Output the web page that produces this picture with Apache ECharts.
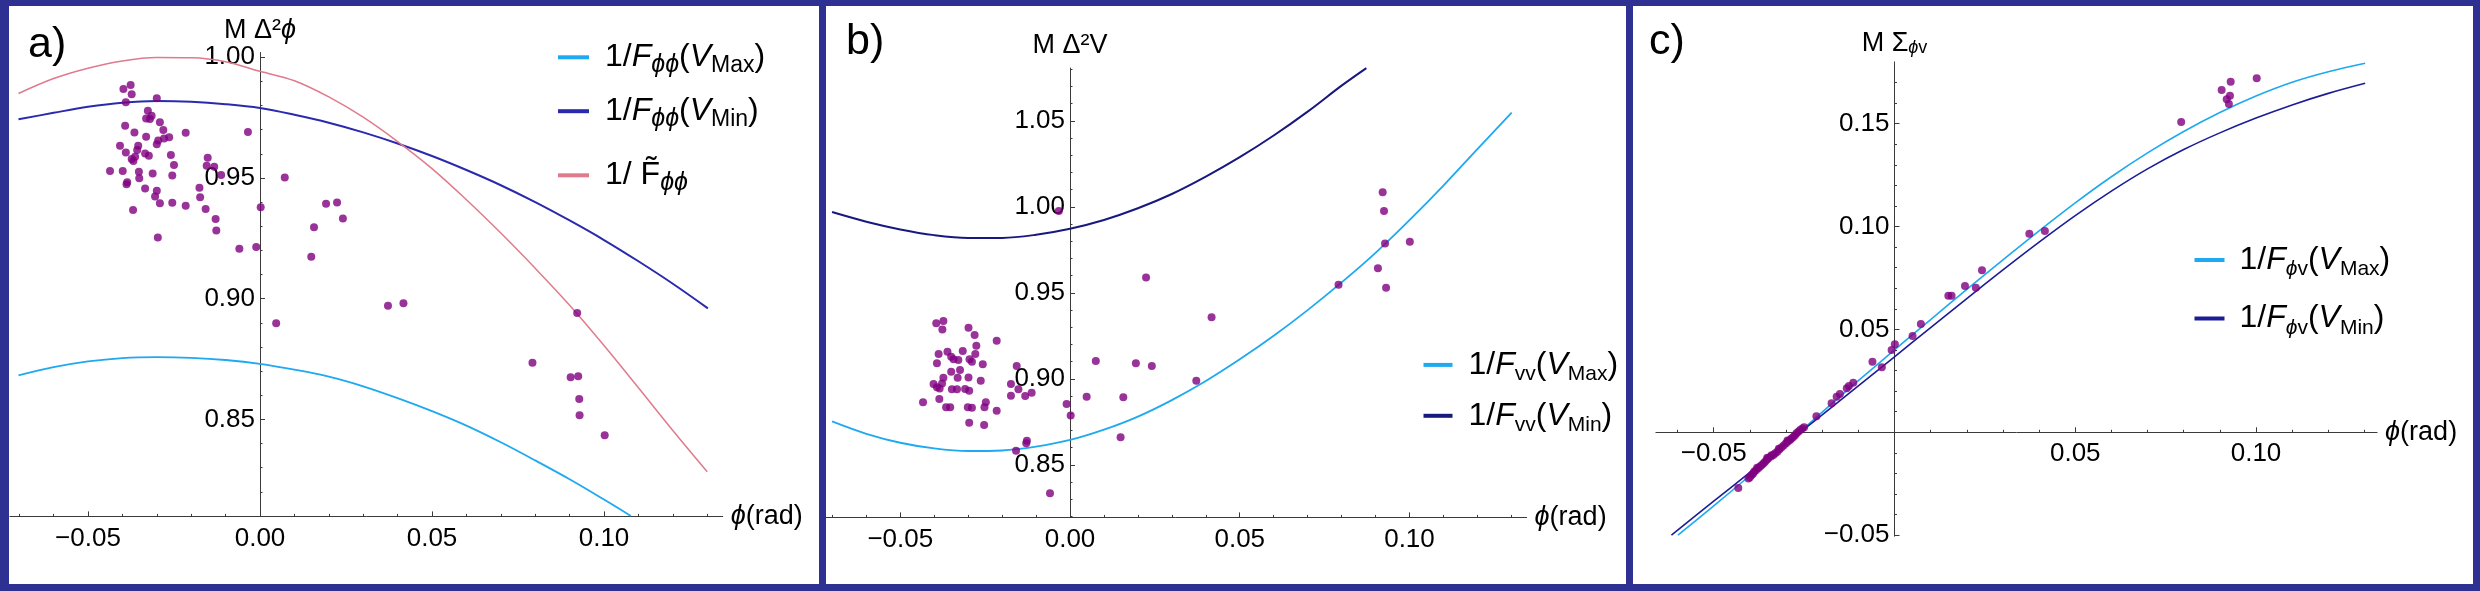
<!DOCTYPE html>
<html><head><meta charset="utf-8">
<script src="https://cdn.jsdelivr.net/npm/echarts@6/dist/echarts.min.js"></script>
<style>html,body{margin:0;padding:0;background:#fff}#c{width:2480px;height:591px}</style>
</head><body><div id="c"></div>
<script>
// ---------------- data ----------------
// panel a : M Δ²ϕ
const aVmax = [[-0.0702,0.8682],[-0.06,0.8716],[-0.05,0.8740],[-0.04,0.8754],[-0.03,0.8758],[-0.02,0.8755],[-0.01,0.8746],[0.00,0.8730],[0.01,0.8706],[0.02,0.8677],[0.03,0.8637],[0.04,0.8588],[0.05,0.8534],[0.06,0.8474],[0.07,0.8405],[0.08,0.8330],[0.09,0.8252],[0.10,0.8168],[0.1078,0.8100]];
const aVmin = [[-0.0702,0.9743],[-0.06,0.9770],[-0.05,0.9795],[-0.04,0.9812],[-0.03,0.9819],[-0.02,0.9816],[-0.01,0.9806],[0.00,0.9790],[0.01,0.9762],[0.02,0.9729],[0.03,0.9689],[0.04,0.9643],[0.05,0.9591],[0.06,0.9533],[0.07,0.9470],[0.08,0.9400],[0.09,0.9324],[0.10,0.9243],[0.11,0.9155],[0.12,0.9062],[0.1302,0.8960]];
const aTilde = [[-0.0702,0.9850],[-0.06,0.9912],[-0.05,0.9955],[-0.04,0.9985],[-0.03,0.9999],[-0.02,0.9998],[-0.01,0.9982],[0.00,0.9942],[0.01,0.9903],[0.02,0.9836],[0.03,0.9752],[0.04,0.9651],[0.05,0.9539],[0.06,0.9410],[0.07,0.9272],[0.08,0.9126],[0.09,0.8973],[0.10,0.8806],[0.11,0.8631],[0.12,0.8454],[0.1300,0.8283]];
const aPts = [
[-0.0397,0.9869],[-0.0376,0.9885],[-0.0373,0.9847],[-0.0390,0.9814],[-0.0300,0.9830],
[-0.0326,0.9779],[-0.0315,0.9758],[-0.0331,0.9747],[-0.0320,0.9744],[-0.0291,0.9731],
[-0.0392,0.9717],[-0.0281,0.9699],[-0.0365,0.9689],[-0.0216,0.9688],[-0.0035,0.9691],
[-0.0331,0.9671],[-0.0264,0.9669],[-0.0279,0.9664],[-0.0296,0.9655],[-0.0300,0.9640],
[-0.0407,0.9634],[-0.0354,0.9634],[-0.0357,0.9616],[-0.0390,0.9606],[-0.0334,0.9602],
[-0.0323,0.9592],[-0.0259,0.9595],[-0.0363,0.9588],[-0.0373,0.9579],[-0.0368,0.9570],
[-0.0152,0.9584],[-0.0250,0.9554],[-0.0155,0.9551],[-0.0133,0.9547],[-0.0436,0.9529],
[-0.0399,0.9529],[-0.0352,0.9526],[-0.0312,0.9519],[-0.0255,0.9510],[-0.0113,0.9512],
[-0.0351,0.9499],[-0.0386,0.9482],[-0.0388,0.9474],[-0.0334,0.9457],[-0.0176,0.9460],
[-0.0300,0.9447],[-0.0174,0.9420],[-0.0305,0.9423],[-0.0291,0.9395],[-0.0255,0.9398],
[-0.0216,0.9385],[0.0002,0.9379],[-0.0369,0.9367],[-0.0158,0.9372],[-0.0129,0.9330],
[-0.0127,0.9283],[-0.0297,0.9254],[-0.0060,0.9207],[-0.0011,0.9214],[0.0072,0.9502],
[0.0192,0.9393],[0.0224,0.9399],[0.0241,0.9332],[0.0157,0.9296],[0.0149,0.9174],
[0.0047,0.8898],[0.0372,0.8971],[0.0417,0.8981],[0.0922,0.8941],[0.0792,0.8735],
[0.0903,0.8674],[0.0925,0.8679],[0.0928,0.8584],[0.0929,0.8517],[0.1002,0.8434]];

// panel b : M Δ²V
const bVmax = [[-0.0701,0.8753],[-0.06,0.8681],[-0.05,0.8629],[-0.04,0.8596],[-0.03,0.8581],[-0.02,0.8584],[-0.01,0.8606],[0.00,0.8645],[0.01,0.8705],[0.02,0.8781],[0.03,0.8877],[0.04,0.8988],[0.05,0.9114],[0.06,0.9251],[0.07,0.9400],[0.08,0.9561],[0.09,0.9733],[0.10,0.9923],[0.11,1.0124],[0.12,1.0336],[0.1301,1.0548]];
const bVmin = [[-0.0701,0.9970],[-0.06,0.9914],[-0.05,0.9869],[-0.04,0.9836],[-0.03,0.9820],[-0.02,0.9820],[-0.01,0.9838],[0.00,0.9873],[0.01,0.9924],[0.02,0.9992],[0.03,1.0075],[0.04,1.0176],[0.05,1.0289],[0.06,1.0415],[0.07,1.0554],[0.08,1.0705],[0.0873,1.0807]];
const bPts = [
[-0.0394,0.9323],[-0.0373,0.9337],[-0.0376,0.9288],[-0.0299,0.9298],[-0.0281,0.9255],
[-0.0216,0.9222],[-0.0276,0.9193],[-0.0387,0.9145],[-0.0361,0.9158],[-0.0350,0.9129],
[-0.0316,0.9162],[-0.0279,0.9145],[-0.0329,0.9110],[-0.0343,0.9114],[-0.0392,0.9091],
[-0.0296,0.9114],[-0.0289,0.9100],[-0.0257,0.9085],[-0.0324,0.9052],[-0.0350,0.9042],
[-0.0373,0.9007],[-0.0331,0.9007],[-0.0299,0.9009],[-0.0263,0.8990],[-0.0157,0.9075],
[-0.0402,0.8970],[-0.0377,0.8974],[-0.0392,0.8951],[-0.0384,0.8945],[-0.0348,0.8940],
[-0.0333,0.8940],[-0.0309,0.8941],[-0.0297,0.8931],[-0.0174,0.8970],[-0.0152,0.8940],
[-0.0113,0.8920],[-0.0174,0.8902],[-0.0132,0.8901],[-0.0385,0.8883],[-0.0433,0.8864],
[-0.0248,0.8864],[-0.0365,0.8835],[-0.0353,0.8835],[-0.0301,0.8835],[-0.0289,0.8833],
[-0.0252,0.8835],[-0.0216,0.8815],[-0.0297,0.8745],[-0.0253,0.8732],[-0.0010,0.8854],
[0.0002,0.8788],[0.0049,0.8897],[-0.0127,0.8641],[-0.0129,0.8626],[-0.0159,0.8583],
[-0.0059,0.8335],[-0.0033,0.9976],[0.0224,0.9590],[0.0417,0.9358],[0.0372,0.8990],
[0.0194,0.9091],[0.0241,0.9075],[0.0076,0.9104],[0.0157,0.8893],[0.0149,0.8661],
[0.0921,1.0085],[0.0925,0.9976],[0.0928,0.9788],[0.1001,0.9798],[0.0907,0.9643],
[0.0791,0.9548],[0.0931,0.9530]];

// panel c : M Σϕv
const cVmax = [[-0.0599,-0.0500],[-0.05,-0.0358],[-0.04,-0.0210],[-0.03,-0.0057],[-0.02,0.0098],[-0.01,0.0251],[0.00,0.0400],[0.01,0.0548],[0.02,0.0694],[0.03,0.0838],[0.04,0.0979],[0.05,0.1115],[0.06,0.1242],[0.07,0.1358],[0.08,0.1462],[0.09,0.1554],[0.10,0.1634],[0.11,0.1701],[0.12,0.1752],[0.1302,0.1793]];
const cVmin = [[-0.0617,-0.0500],[-0.05,-0.0335],[-0.04,-0.0195],[-0.03,-0.0055],[-0.02,0.0085],[-0.01,0.0226],[0.00,0.0367],[0.01,0.0509],[0.02,0.0650],[0.03,0.0789],[0.04,0.0924],[0.05,0.1053],[0.06,0.1172],[0.07,0.1280],[0.08,0.1374],[0.09,0.1455],[0.10,0.1527],[0.11,0.1591],[0.12,0.1647],[0.1302,0.1696]];
const cPts = [
[0.1002,0.1720],[0.0930,0.1704],[0.0905,0.1663],[0.0928,0.1636],[0.0919,0.1618],[0.0925,0.1595],[0.0793,0.1508],
[0.0373,0.0965],[0.0416,0.0978],[0.0242,0.0787],[0.0195,0.0711],[0.0225,0.0703],[0.0149,0.0664],[0.0158,0.0664],
[0.0073,0.0526],[0.0050,0.0468],[0.0001,0.0428],[-0.0008,0.0400],
[-0.0061,0.0343],[-0.0035,0.0316],[-0.0114,0.0241],[-0.0126,0.0225],[-0.0132,0.0214],[-0.0151,0.0186],[-0.0160,0.0173],[-0.0174,0.0141],[-0.0216,0.0078],
[-0.0250,0.0024],[-0.0255,0.0018],[-0.0261,0.0011],[-0.0266,0.0003],[-0.0271,-0.0005],[-0.0275,-0.0014],[-0.0280,-0.0023],[-0.0285,-0.0030],[-0.0289,-0.0037],[-0.0295,-0.0045],[-0.0300,-0.0053],[-0.0306,-0.0063],[-0.0312,-0.0073],[-0.0318,-0.0083],[-0.0324,-0.0094],[-0.0330,-0.0102],[-0.0335,-0.0110],[-0.0342,-0.0118],[-0.0349,-0.0126],[-0.0353,-0.0134],[-0.0358,-0.0143],[-0.0362,-0.0151],[-0.0367,-0.0159],[-0.0372,-0.0166],[-0.0377,-0.0175],[-0.0383,-0.0184],[-0.0388,-0.0191],[-0.0391,-0.0200],[-0.0395,-0.0207],[-0.0400,-0.0218],[-0.0404,-0.0225],[-0.0432,-0.0271],
[-0.0296,-0.0040],[-0.0352,-0.0124],[-0.0380,-0.0172],[-0.0320,-0.0080],[-0.0340,-0.0112]];

// tick values
const abXMajor = [-0.05, 0, 0.05, 0.10];
const abXMinor = [-0.07,-0.06,-0.04,-0.03,-0.02,-0.01,0.01,0.02,0.03,0.04,0.06,0.07,0.08,0.09,0.11,0.12,0.13];
const aYMajor = [0.85, 0.90, 0.95, 1.00];
const aYMinor = [0.81,0.82,0.83,0.84,0.86,0.87,0.88,0.89,0.91,0.92,0.93,0.94,0.96,0.97,0.98,0.99];
const bYMajor = [0.85, 0.90, 0.95, 1.00, 1.05];
const bYMinor = [0.82,0.83,0.84,0.86,0.87,0.88,0.89,0.91,0.92,0.93,0.94,0.96,0.97,0.98,0.99,1.01,1.02,1.03,1.04,1.06,1.07,1.08];
const cXMajor = [-0.05, 0.05, 0.10];
const cXMinor = [-0.06,-0.04,-0.03,-0.02,-0.01,0.01,0.02,0.03,0.04,0.06,0.07,0.08,0.09,0.11,0.12,0.13];
const cYMajor = [-0.05, 0.05, 0.10, 0.15];
const cYMinor = [-0.04,-0.03,-0.02,-0.01,0.01,0.02,0.03,0.04,0.06,0.07,0.08,0.09,0.11,0.12,0.13,0.14,0.16,0.17];

// ---------------- styling ----------------
const FONT = '"Liberation Sans", Arial, "DejaVu Sans", sans-serif';
const LIGHT = '#1EA9F0', DARKA = '#2A2AAE', DARKB = '#18187F', DARKC = '#1C1C96', PINK = '#E07A8C';
const PURPLE = '#800080', BORDER = '#2E3192', AX = '#3a3a3a';

const fmt = v => (v < 0 ? '\u2212' : '') + Math.abs(v).toFixed(2);

const nameRich = {
  n: {fontSize: 27, fontFamily: FONT, color: '#000', lineHeight: 27},
  i: {fontSize: 27, fontFamily: FONT, fontStyle: 'italic', color: '#000', lineHeight: 27},
  si: {fontSize: 18, fontFamily: FONT, fontStyle: 'italic', color: '#000', lineHeight: 14, verticalAlign: 'bottom'},
  s: {fontSize: 18, fontFamily: FONT, color: '#000', lineHeight: 14, verticalAlign: 'bottom'}
};
function legRichOf(subPhi, subTxt) {
  return {
    n: {fontSize: 32, fontFamily: FONT, color: '#000', lineHeight: 40},
    i: {fontSize: 32, fontFamily: FONT, fontStyle: 'italic', color: '#000', lineHeight: 40},
    si: {fontSize: subPhi, fontFamily: FONT, fontStyle: 'italic', color: '#000', lineHeight: 26, verticalAlign: 'bottom'},
    s: {fontSize: subTxt, fontFamily: FONT, color: '#000', lineHeight: 26, verticalAlign: 'bottom'}
  };
}
const legText = {
  aVmax: '{n|1/}{i|F}{si|ϕϕ}{n|(}{i|V}{s|Max}{n|)}',
  aVmin: '{n|1/}{i|F}{si|ϕϕ}{n|(}{i|V}{s|Min}{n|)}',
  aTilde: '{n|1/ F\u0303}{si|ϕϕ}',
  bVmax: '{n|1/}{i|F}{s|vv}{n|(}{i|V}{s|Max}{n|)}',
  bVmin: '{n|1/}{i|F}{s|vv}{n|(}{i|V}{s|Min}{n|)}',
  cVmax: '{n|1/}{i|F}{si|ϕ}{s|v}{n|(}{i|V}{s|Max}{n|)}',
  cVmin: '{n|1/}{i|F}{si|ϕ}{s|v}{n|(}{i|V}{s|Min}{n|)}'
};

// axes are shifted onto the zero lines with a (negative) offset
function xAxes(gi, min, max, major, minor, labels, off) {
  return [{
    type: 'value', gridIndex: gi, min: min, max: max, position: 'bottom', offset: off,
    axisLine: {show: true, onZero: false, lineStyle: {color: AX, width: 1}},
    axisTick: {show: true, inside: true, length: 5, customValues: major, lineStyle: {color: AX, width: 1}},
    axisLabel: {show: true, customValues: labels, margin: 9, fontSize: 26, fontFamily: FONT, color: '#000', formatter: fmt},
    splitLine: {show: false},
    name: '{i|ϕ}{n|(rad)}', nameLocation: 'end', nameGap: 8,
    nameTextStyle: {rich: nameRich, fontSize: 27, fontFamily: FONT, color: '#000', lineHeight: 27}
  }, {
    type: 'value', gridIndex: gi, min: min, max: max, position: 'bottom', offset: off,
    axisLine: {show: false, onZero: false},
    axisTick: {show: true, inside: true, length: 2.5, customValues: minor, lineStyle: {color: AX, width: 1}},
    axisLabel: {show: false}, splitLine: {show: false}
  }];
}
function yAxes(gi, min, max, major, minor, labels, name, gap, off) {
  return [{
    type: 'value', gridIndex: gi, min: min, max: max, position: 'left', offset: off,
    axisLine: {show: true, onZero: false, lineStyle: {color: AX, width: 1}},
    axisTick: {show: true, inside: true, length: 5, customValues: major, lineStyle: {color: AX, width: 1}},
    axisLabel: {show: true, customValues: labels, margin: 5, fontSize: 26, fontFamily: FONT, color: '#000', formatter: fmt},
    splitLine: {show: false},
    name: name, nameLocation: 'end', nameGap: gap,
    nameTextStyle: {rich: nameRich, fontSize: 27, fontFamily: FONT, color: '#000', lineHeight: 27}
  }, {
    type: 'value', gridIndex: gi, min: min, max: max, position: 'left', offset: off,
    axisLine: {show: false, onZero: false},
    axisTick: {show: true, inside: true, length: 2.5, customValues: minor, lineStyle: {color: AX, width: 1}},
    axisLabel: {show: false}, splitLine: {show: false}
  }];
}
function lineS(name, gi, data, color, width) {
  return {type: 'line', name: name, xAxisIndex: gi * 2, yAxisIndex: gi * 2, data: data,
    symbol: 'none', showSymbol: false, smooth: 0.35, clip: true, silent: true, z: 2,
    lineStyle: {color: color, width: width}, itemStyle: {color: color}};
}
function dotS(gi, data) {
  return {type: 'scatter', xAxisIndex: gi * 2, yAxisIndex: gi * 2, data: data, symbolSize: 8,
    clip: true, silent: true, z: 3, itemStyle: {color: PURPLE}};
}
function leg(name, left, rowY, iw, pad, rich) {
  return {data: [name], left: left, top: rowY - 20, orient: 'vertical', padding: 0,
    itemWidth: iw, itemHeight: 4, icon: 'rect', selectedMode: false,
    formatter: n => legText[n],
    textStyle: {rich: rich, fontSize: 32, fontFamily: FONT, color: '#000', lineHeight: 40, padding: [0, 0, 0, pad]}};
}
function txt(t, x, y) {
  return {type: 'text', x: x, y: y, z: 50,
    style: {text: t, fontSize: 43, fontFamily: FONT, fill: '#000', verticalAlign: 'middle', align: 'left'}};
}
function rect(x, y, w, h) {
  return {type: 'rect', z: 100, shape: {x: x, y: y, width: w, height: h}, style: {fill: BORDER}};
}

const richA = legRichOf(25, 23), richB = legRichOf(21, 21);

const option = {
  animation: false,
  backgroundColor: '#fff',
  grid: [
    {left: 9.9, top: 52.5, width: 712.8, height: 463.9, containLabel: false, outerBoundsMode: 'none'},
    {left: 823.9, top: 68.1, width: 702.7, height: 449.3, containLabel: false, outerBoundsMode: 'none'},
    {left: 1655.9, top: 61.9, width: 721.2, height: 474.3, containLabel: false, outerBoundsMode: 'none'}
  ],
  xAxis: [].concat(
    xAxes(0, -0.0727, 0.1345, abXMajor, abXMinor, abXMajor, 0),
    xAxes(1, -0.0725, 0.1345, abXMajor, abXMinor, abXMajor, 0),
    xAxes(2, -0.066, 0.1335, cXMajor, cXMinor, cXMajor, -103.9)
  ),
  yAxis: [].concat(
    yAxes(0, 0.8098, 1.002, aYMajor, aYMinor, aYMajor, '{n|M Δ²}{i|ϕ}', 2, -250.1),
    yAxes(1, 0.8195, 1.0807, bYMajor, bYMinor, bYMajor, '{n|M Δ²V}', 9, -246.1),
    yAxes(2, -0.0505, 0.18, cYMajor, cYMinor, cYMajor, '{n|M Σ}{si|ϕ}{s|v}', 5, -238.6)
  ),
  legend: [
    leg('aVmax', 558, 57.3, 31, 11, richA), leg('aVmin', 558, 111.2, 31, 11, richA), leg('aTilde', 558, 175.3, 31, 11, richA),
    leg('bVmax', 1423.5, 364.9, 29, 11, richB), leg('bVmin', 1423.5, 415.8, 29, 11, richB),
    leg('cVmax', 2194.5, 260, 30, 10, richB), leg('cVmin', 2194.5, 318.5, 30, 10, richB)
  ],
  series: [
    lineS('aVmax', 0, aVmax, LIGHT, 1.8),
    lineS('aVmin', 0, aVmin, DARKA, 2),
    lineS('aTilde', 0, aTilde, PINK, 1.5),
    dotS(0, aPts),
    lineS('bVmax', 1, bVmax, LIGHT, 1.8),
    lineS('bVmin', 1, bVmin, DARKB, 2),
    dotS(1, bPts),
    lineS('cVmax', 2, cVmax, LIGHT, 1.6),
    lineS('cVmin', 2, cVmin, DARKC, 1.6),
    dotS(2, cPts)
  ],
  graphic: [
    txt('a)', 28, 45), txt('b)', 846, 42), txt('c)', 1649, 42),
    rect(0, 0, 2480, 6), rect(0, 584, 2480, 7), rect(0, 0, 9, 591), rect(2473, 0, 7, 591),
    rect(819, 0, 7, 591), rect(1626, 0, 7, 591)
  ]
};
const chart = echarts.init(document.getElementById('c'), null, {renderer: 'canvas'});
chart.setOption(option);
</script></body></html>
